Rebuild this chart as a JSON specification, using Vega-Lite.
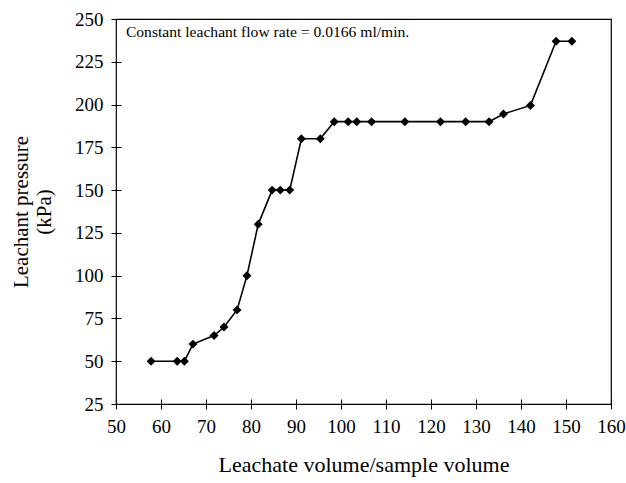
{
  "$schema": "https://vega.github.io/schema/vega-lite/v6.json",
  "autosize": {"type": "none"},
  "padding": {"left": 116, "top": 19, "right": 15, "bottom": 79},
  "width": 495,
  "height": 385,
  "background": "white",
  "config": {
    "font": "Liberation Serif",
    "view": {"stroke": "black", "strokeWidth": 1.2},
    "axis": {
      "grid": false,
      "domain": false,
      "ticks": true,
      "tickColor": "black",
      "tickWidth": 1,
      "tickSize": 10,
      "offset": -5,
      "labelFlush": false,
      "labelOverlap": false,
      "labelFont": "Liberation Serif",
      "labelFontSize": 19,
      "labelColor": "black",
      "titleFont": "Liberation Serif",
      "titleFontSize": 22,
      "titleFontWeight": "normal",
      "titleColor": "black"
    }
  },
  "data": {
    "values": [
      {"ratio": 57.8, "pressure": 50},
      {"ratio": 63.6, "pressure": 50},
      {"ratio": 65.2, "pressure": 50},
      {"ratio": 67.1, "pressure": 60},
      {"ratio": 71.8, "pressure": 65},
      {"ratio": 74.0, "pressure": 70},
      {"ratio": 76.9, "pressure": 80},
      {"ratio": 79.1, "pressure": 100},
      {"ratio": 81.6, "pressure": 130},
      {"ratio": 84.7, "pressure": 150},
      {"ratio": 86.5, "pressure": 150},
      {"ratio": 88.6, "pressure": 150},
      {"ratio": 91.2, "pressure": 180},
      {"ratio": 95.4, "pressure": 180},
      {"ratio": 98.5, "pressure": 190},
      {"ratio": 101.6, "pressure": 190},
      {"ratio": 103.5, "pressure": 190},
      {"ratio": 106.8, "pressure": 190},
      {"ratio": 114.2, "pressure": 190},
      {"ratio": 122.1, "pressure": 190},
      {"ratio": 127.7, "pressure": 190},
      {"ratio": 132.9, "pressure": 190},
      {"ratio": 136.1, "pressure": 194.5},
      {"ratio": 142.1, "pressure": 199.5},
      {"ratio": 147.8, "pressure": 237},
      {"ratio": 151.3, "pressure": 237}
    ]
  },
  "layer": [
    {
      "mark": {"type": "line", "color": "black", "strokeWidth": 1.6},
      "encoding": {
        "x": {
          "field": "ratio",
          "type": "quantitative",
          "scale": {"domain": [50, 160], "nice": false, "zero": false},
          "axis": {
            "values": [50, 60, 70, 80, 90, 100, 110, 120, 130, 140, 150, 160],
            "labelPadding": 8,
            "title": "Leachate volume/sample volume",
            "titlePadding": 18
          }
        },
        "y": {
          "field": "pressure",
          "type": "quantitative",
          "scale": {"domain": [25, 250], "nice": false, "zero": false},
          "axis": {
            "values": [25, 50, 75, 100, 125, 150, 175, 200, 225, 250],
            "labelPadding": 8,
            "title": ["Leachant pressure", "(kPa)"],
            "titleFontSize": 21,
            "titleLineHeight": 23,
            "titlePadding": 20
          }
        }
      }
    },
    {
      "mark": {"type": "point", "shape": "diamond", "filled": true, "color": "black", "opacity": 1, "size": 80},
      "encoding": {
        "x": {"field": "ratio", "type": "quantitative"},
        "y": {"field": "pressure", "type": "quantitative"}
      }
    },
    {
      "data": {"values": [{"ratio": 52.2, "pressure": 239.5, "note": "Constant leachant flow rate = 0.0166 ml/min."}]},
      "mark": {"type": "text", "align": "left", "baseline": "alphabetic", "font": "Liberation Serif", "fontSize": 15.6, "color": "black"},
      "encoding": {
        "x": {"field": "ratio", "type": "quantitative"},
        "y": {"field": "pressure", "type": "quantitative"},
        "text": {"field": "note"}
      }
    }
  ]
}
